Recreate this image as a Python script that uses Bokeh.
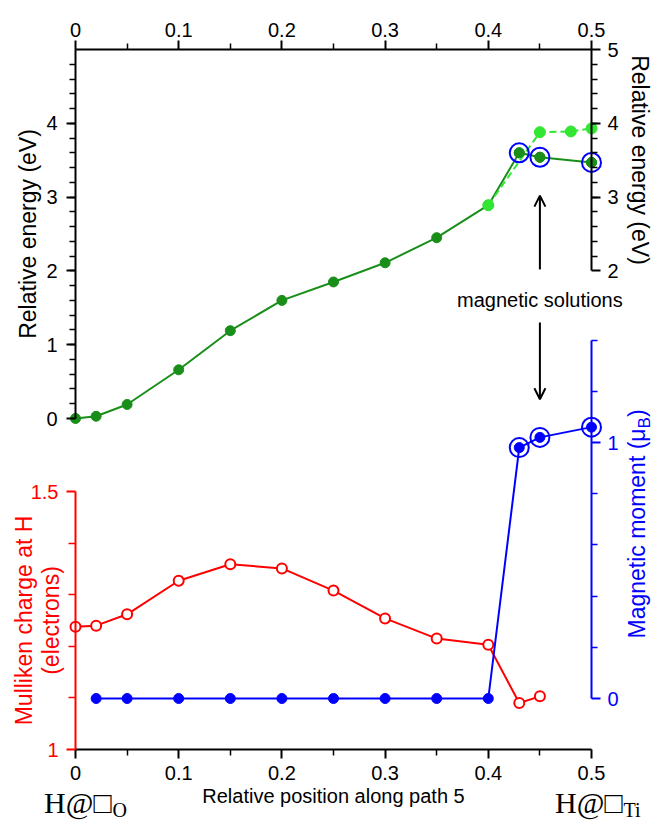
import numpy as np
from math import pi
from bokeh.plotting import figure
from bokeh.models import Range1d, LinearAxis, FixedTicker, Label, Arrow, OpenHead
from bokeh.embed import file_html
from bokeh.resources import INLINE

# ---------------- data ----------------
x_path = [0.0, 0.02, 0.05, 0.10, 0.15, 0.20, 0.25, 0.30, 0.35, 0.40, 0.43, 0.45, 0.50]
energy_main = [0.00, 0.03, 0.19, 0.66, 1.19, 1.60, 1.85, 2.11, 2.45, 2.89, 3.60, 3.54, 3.47]

x_alt = [0.40, 0.45, 0.48, 0.50]
energy_alt = [2.89, 3.88, 3.89, 3.93]

x_charge = [0.0, 0.02, 0.05, 0.10, 0.15, 0.20, 0.25, 0.30, 0.35, 0.40, 0.43, 0.45]
charge = [1.238, 1.240, 1.262, 1.327, 1.359, 1.351, 1.308, 1.254, 1.215, 1.203, 1.090, 1.103]

x_moment = [0.02, 0.05, 0.10, 0.15, 0.20, 0.25, 0.30, 0.35, 0.40, 0.43, 0.45, 0.50]
moment = [0, 0, 0, 0, 0, 0, 0, 0, 0, 0.98, 1.02, 1.06]

x_magnetic = [0.43, 0.45, 0.50]
energy_magnetic = [energy_main[x_path.index(v)] for v in x_magnetic]
moment_magnetic = [moment[x_moment.index(v)] for v in x_magnetic]

x_ticks = [0, 0.1, 0.2, 0.3, 0.4, 0.5]
x_tick_labels = ["0", "0.1", "0.2", "0.3", "0.4", "0.5"]
x_minor = [0.05, 0.15, 0.25, 0.35, 0.45]
energy_left_ticks = [0, 1, 2, 3, 4]
energy_right_ticks = [2, 3, 4, 5]
charge_ticks = [1, 1.5]
charge_tick_labels = ["1", "1.5"]
moment_ticks = [0, 1]

# annotation anchors (x units / energy units)
arrow_x = 0.45
arrow_up = (2.02, 3.02)
arrow_down = (1.30, 0.26)
note_y = 1.61

# ---------------- geometry ----------------
W, H = 653, 820
X0_PX, X1_PX = 75, 591          # x = 0 and x = 0.5
E0_PX, E_PER = 418, 73.8        # energy 0 pixel row, px per eV
Q1_PX, Q_PER = 749, 516         # charge 1 pixel row, px per electron
M0_PX, M_PER = 698, 256         # moment 0 pixel row, px per muB

xs = (X1_PX - X0_PX) / 0.5
x_range = Range1d(-X0_PX / xs, 0.5 + (W - X1_PX) / xs)
e_range = Range1d(-(H - E0_PX) / E_PER, E0_PX / E_PER)
q_range = Range1d(1 - (H - Q1_PX) / Q_PER, 1 + Q1_PX / Q_PER)
m_range = Range1d(-(H - M0_PX) / M_PER, M0_PX / M_PER)

FONT = "Liberation Sans"
SERIF = "Liberation Serif"
DG = "#198f19"
LG = "#33e633"
RED = "#ff0000"
BLUE = "#0000ff"
TICK_FS = "20px"
LABEL_FS = "23px"

p = figure(width=W, height=H, x_range=x_range, y_range=e_range,
           output_backend="svg", toolbar_location=None,
           x_axis_location=None, y_axis_location=None,
           min_border=0, min_border_left=0, min_border_right=0,
           min_border_top=0, min_border_bottom=0,
           outline_line_color=None,
           background_fill_color="white", border_fill_color="white")
p.extra_y_ranges = {"mull": q_range, "mag": m_range}
p.grid.visible = False


def style(ax, color, standoff, major_out=9, minor_out=6):
    ax.axis_line_color = color
    ax.axis_line_width = 2
    ax.major_tick_line_color = color
    ax.major_tick_line_width = 2
    ax.minor_tick_line_color = color
    ax.minor_tick_line_width = 1.5
    ax.major_tick_in = 0
    ax.major_tick_out = major_out
    ax.minor_tick_in = 0
    ax.minor_tick_out = minor_out
    ax.major_label_text_color = color
    ax.major_label_text_font = FONT
    ax.major_label_text_font_size = TICK_FS
    ax.major_label_standoff = standoff
    ax.axis_label_text_font = FONT
    ax.axis_label_text_font_size = LABEL_FS
    ax.axis_label_text_font_style = "normal"
    ax.axis_label_text_color = color


x_over = dict(zip(x_ticks, x_tick_labels))

xb = LinearAxis(y_range_name="mull", fixed_location=1, bounds=(0, 0.5),
                ticker=FixedTicker(ticks=x_ticks, minor_ticks=x_minor),
                axis_label="Relative position along path 5",
                major_label_overrides=x_over)
style(xb, "black", 7)
xb.axis_label_text_font_size = "20px"
xb.axis_label_standoff = 2
p.add_layout(xb, "below")

xt = LinearAxis(fixed_location=5, bounds=(0, 0.5),
                ticker=FixedTicker(ticks=x_ticks, minor_ticks=x_minor),
                major_label_overrides=x_over)
style(xt, "black", 4)
p.add_layout(xt, "above")

e_minor_left = [round(v, 1) for v in np.arange(0.2, 5.0, 0.2)]
e_minor_right = [round(v, 1) for v in np.arange(2.2, 5.0, 0.2)]

yl = LinearAxis(fixed_location=0, bounds=(0, 5),
                ticker=FixedTicker(ticks=energy_left_ticks, minor_ticks=e_minor_left),
                axis_label="Relative energy (eV)")
style(yl, "black", 9)
yl.axis_label_standoff = 2
p.add_layout(yl, "left")

yr = LinearAxis(fixed_location=0.5, bounds=(2, 5),
                ticker=FixedTicker(ticks=energy_right_ticks, minor_ticks=e_minor_right),
                axis_label="Relative energy (eV)")
style(yr, "black", 7)
yr.axis_label_standoff = 5
p.add_layout(yr, "right")

yq = LinearAxis(y_range_name="mull", fixed_location=0, bounds=(1, 1.5),
                ticker=FixedTicker(ticks=charge_ticks, minor_ticks=[1.1, 1.2, 1.3, 1.4]),
                major_label_overrides=dict(zip(charge_ticks, charge_tick_labels)))
style(yq, RED, 8, major_out=9, minor_out=7)
p.add_layout(yq, "left")

ym = LinearAxis(y_range_name="mag", fixed_location=0.5, bounds=(0, 1.4),
                ticker=FixedTicker(ticks=moment_ticks, minor_ticks=[0.2, 0.4, 0.6, 0.8, 1.2, 1.4]))
style(ym, BLUE, 7)
p.add_layout(ym, "right")

# ---------------- glyphs ----------------
p.line(x_path, energy_main, line_color=DG, line_width=2)
p.scatter(x_path, energy_main, size=10, fill_color=DG, line_color=DG)
p.line(x_alt, energy_alt, line_color=LG, line_width=2, line_dash="7 4")
p.scatter(x_alt, energy_alt, size=11, fill_color=LG, line_color=LG)
p.scatter(x_magnetic, energy_magnetic, size=10, fill_color=DG, line_color=DG)
p.scatter(x_magnetic, energy_magnetic, size=19, fill_color=None, line_color=BLUE, line_width=2)

p.line(x_charge, charge, line_color=RED, line_width=2, y_range_name="mull")
p.scatter(x_charge, charge, size=10, fill_color="white", line_color=RED, line_width=2,
          y_range_name="mull")

p.line(x_moment, moment, line_color=BLUE, line_width=2, y_range_name="mag")
p.scatter(x_moment, moment, size=10, fill_color=BLUE, line_color=BLUE, y_range_name="mag")
p.scatter(x_magnetic, moment_magnetic, size=19, fill_color=None, line_color=BLUE,
          line_width=2, y_range_name="mag")

# ---------------- annotations ----------------
p.add_layout(Arrow(end=OpenHead(size=11, line_width=2, line_color="black"),
                   x_start=arrow_x, y_start=arrow_up[0], x_end=arrow_x, y_end=arrow_up[1],
                   line_width=2, line_color="black"))
p.add_layout(Arrow(end=OpenHead(size=11, line_width=2, line_color="black"),
                   x_start=arrow_x, y_start=arrow_down[0], x_end=arrow_x, y_end=arrow_down[1],
                   line_width=2, line_color="black"))
p.add_layout(Label(x=arrow_x, y=note_y, text="magnetic solutions", text_align="center",
                   text_baseline="middle", text_font=FONT, text_font_size="20px",
                   text_color="black"))

# Mulliken axis label (two lines)
p.add_layout(Label(x=0, y=1.25, y_range_name="mull", text="Mulliken charge at H",
                   angle=pi / 2, text_align="center", text_baseline="middle",
                   x_offset=-52, text_font=FONT, text_font_size=LABEL_FS, text_color=RED))
p.add_layout(Label(x=0, y=1.25, y_range_name="mull", text="(electrons)",
                   angle=pi / 2, text_align="center", text_baseline="middle",
                   x_offset=-25, text_font=FONT, text_font_size=LABEL_FS, text_color=RED))

# Magnetic moment axis label with subscript
part1 = "Magnetic moment (\u03bc"
w1 = 23 * 9.134
p.add_layout(Label(x=0.5, y=0, y_range_name="mag", text=part1, angle=pi / 2,
                   text_align="left", text_baseline="middle", x_offset=45, y_offset=60,
                   text_font=FONT, text_font_size=LABEL_FS, text_color=BLUE))
p.add_layout(Label(x=0.5, y=0, y_range_name="mag", text="B", angle=pi / 2,
                   text_align="left", text_baseline="middle", x_offset=53,
                   y_offset=60 + w1, text_font=FONT, text_font_size="17px", text_color=BLUE))
p.add_layout(Label(x=0.5, y=0, y_range_name="mag", text=")", angle=pi / 2,
                   text_align="left", text_baseline="middle", x_offset=45,
                   y_offset=60 + w1 + 17 * 0.667, text_font=FONT, text_font_size=LABEL_FS,
                   text_color=BLUE))

# end-point labels
p.add_layout(Label(x=0, y=1, y_range_name="mull", text="H@\u25a1", text_align="right",
                   text_baseline="middle", x_offset=36, y_offset=-53,
                   text_font=SERIF, text_font_size="30px", text_color="black"))
p.add_layout(Label(x=0, y=1, y_range_name="mull", text="O", text_align="left",
                   text_baseline="middle", x_offset=37, y_offset=-60,
                   text_font=SERIF, text_font_size="20px", text_color="black"))
p.add_layout(Label(x=0.5, y=1, y_range_name="mull", text="H@\u25a1", text_align="right",
                   text_baseline="middle", x_offset=31, y_offset=-53,
                   text_font=SERIF, text_font_size="30px", text_color="black"))
p.add_layout(Label(x=0.5, y=1, y_range_name="mull", text="Ti", text_align="left",
                   text_baseline="middle", x_offset=32, y_offset=-60,
                   text_font=SERIF, text_font_size="20px", text_color="black"))

open("out.html", "w").write(file_html(p, INLINE))
